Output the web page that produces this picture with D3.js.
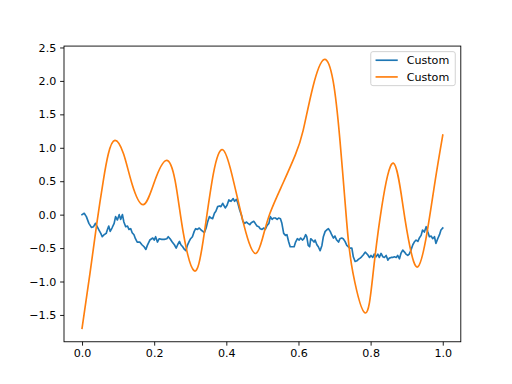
<!DOCTYPE html>
<html>
<head>
<meta charset="utf-8">
<script src="https://cdn.jsdelivr.net/npm/d3@7"></script>
<style>
html, body { margin: 0; padding: 0; background: #fff; }
svg { display: block; }
text { font-family: "DejaVu Sans", sans-serif; }
</style>
</head>
<body>
<svg id="chart" width="512" height="384"></svg>
<script>
const seriesNames = ["Custom", "Custom"];
const seriesColors = ["#1f77b4", "#ff7f0e"];

const blueX = [0.000,0.006,0.012,0.019,0.026,0.032,0.037,0.042,0.047,0.052,0.056,0.061,0.067,0.070,0.074,0.078,0.083,0.089,0.093,0.098,0.103,0.107,0.112,0.116,0.121,0.126,0.130,0.135,0.139,0.144,0.148,0.153,0.160,0.166,0.172,0.177,0.181,0.188,
0.196,0.200,0.204,0.209,0.214,0.221,0.228,0.235,0.239,0.244,0.250,0.256,0.261,0.265,0.270,0.274,0.279,0.284,0.288,0.292,0.297,0.301,0.306,0.311,0.315,0.320,0.325,0.330,0.335,0.339,0.344,0.348,0.353,0.358,0.362,0.367,0.371,0.376,0.381,0.385,0.390,
0.393,0.397,0.402,0.407,0.413,0.419,0.423,0.428,0.432,0.437,0.442,0.446,0.451,0.456,0.460,0.465,0.469,0.476,0.480,0.485,0.490,0.494,0.499,0.504,0.508,0.513,0.518,0.522,0.527,0.531,0.536,0.541,0.545,0.550,0.554,0.559,0.564,0.568,0.573,0.577,0.582,
0.588,0.592,0.597,0.602,0.606,0.611,0.615,0.620,0.623,0.627,0.631,0.634,0.638,0.643,0.646,0.651,0.655,0.660,0.665,0.669,0.674,0.678,0.683,0.688,0.692,0.697,0.701,0.706,0.711,0.715,0.720,0.724,0.729,0.734,0.738,0.743,0.748,0.752,0.757,0.762,0.766,0.771,0.775,0.780,0.785,
0.792,0.797,0.801,0.806,0.810,0.815,0.820,0.824,0.829,0.834,0.838,0.843,0.848,0.852,0.857,0.861,0.866,0.871,0.875,0.880,0.884,0.889,0.894,0.898,0.903,0.907,0.912,0.917,0.921,0.926,0.931,0.935,0.940,0.944,0.949,0.954,0.958,0.963,0.968,0.972,0.977,0.981,0.986,0.991,0.995,1.000];
const blueY = [0.00,0.02,-0.03,-0.13,-0.19,-0.18,-0.13,-0.18,-0.23,-0.28,-0.33,-0.30,-0.28,-0.23,-0.17,-0.25,-0.20,-0.13,-0.03,-0.08,0.00,-0.07,0.00,-0.11,-0.18,-0.17,-0.22,-0.21,-0.27,-0.30,-0.36,-0.41,-0.41,-0.45,-0.48,-0.52,-0.46,-0.38,
-0.35,-0.38,-0.33,-0.41,-0.36,-0.37,-0.37,-0.36,-0.33,-0.36,-0.41,-0.45,-0.50,-0.45,-0.40,-0.45,-0.48,-0.52,-0.54,-0.46,-0.40,-0.36,-0.33,-0.25,-0.21,-0.22,-0.20,-0.23,-0.25,-0.27,-0.20,-0.11,-0.03,-0.05,-0.06,0.02,0.05,0.12,0.13,0.12,0.17,
0.14,0.10,0.14,0.22,0.20,0.24,0.20,0.23,0.17,0.07,-0.01,-0.10,-0.13,-0.11,-0.13,-0.15,-0.12,-0.10,-0.13,-0.17,-0.18,-0.21,-0.22,-0.20,-0.22,-0.16,-0.13,-0.03,-0.07,-0.05,-0.05,-0.07,-0.05,-0.06,-0.13,-0.28,-0.31,-0.30,-0.41,-0.48,-0.48,
-0.48,-0.41,-0.36,-0.38,-0.35,-0.38,-0.36,-0.30,-0.33,-0.46,-0.48,-0.36,-0.38,-0.41,-0.38,-0.45,-0.48,-0.54,-0.46,-0.33,-0.25,-0.23,-0.21,-0.25,-0.30,-0.35,-0.32,-0.38,-0.41,-0.36,-0.35,-0.36,-0.40,-0.46,-0.48,-0.50,-0.50,-0.63,-0.70,-0.69,-0.67,-0.65,-0.63,-0.60,-0.56,
-0.60,-0.64,-0.61,-0.64,-0.59,-0.63,-0.59,-0.64,-0.58,-0.63,-0.64,-0.61,-0.68,-0.65,-0.64,-0.64,-0.63,-0.64,-0.61,-0.66,-0.58,-0.53,-0.56,-0.59,-0.61,-0.59,-0.53,-0.45,-0.41,-0.38,-0.40,-0.35,-0.31,-0.23,-0.26,-0.18,-0.25,-0.33,-0.32,-0.36,-0.33,-0.43,-0.36,-0.30,-0.23,-0.20];

const orangeX = [0.000,0.022,0.041,0.059,0.073,0.091,0.115,0.138,0.170,0.202,0.233,0.258,0.281,0.311,0.336,0.364,0.390,0.415,0.443,0.463,0.482,0.500,0.521,0.557,0.591,0.613,0.640,0.671,0.696,0.715,0.734,0.751,0.785,0.807,0.831,0.863,0.890,0.909,0.931,0.956,0.979,1.000];
const orangeY = [-1.70,-0.88,-0.13,0.51,0.91,1.11,0.91,0.47,0.15,0.51,0.81,0.51,-0.28,-0.84,-0.38,0.61,0.97,0.61,-0.03,-0.42,-0.58,-0.36,0.02,0.47,0.89,1.26,1.91,2.32,2.00,1.11,-0.13,-0.87,-1.47,-0.87,0.12,0.77,0.12,-0.48,-0.78,-0.28,0.51,1.19];

const xTicks = [0.0, 0.2, 0.4, 0.6, 0.8, 1.0];
const yTicks = [-1.5, -1.0, -0.5, 0.0, 0.5, 1.0, 1.5, 2.0, 2.5];

const W = 512, H = 384;
const L = 64, R = 460.8, T = 46.08, B = 341.76;
const px = 80 / 72;

const series = [
  blueX.map((x, i) => [x, blueY[i]]),
  orangeX.map((x, i) => [x, orangeY[i]])
];

const allX = blueX.concat(orangeX);
const allY = blueY.concat(orangeY);
const [x0, x1] = d3.extent(allX);
const [y0, y1] = d3.extent(allY);
const xm = (x1 - x0) * 0.05, ym = (y1 - y0) * 0.05;

const x = d3.scaleLinear().domain([x0 - xm, x1 + xm]).range([L, R]);
const y = d3.scaleLinear().domain([y0 - ym, y1 + ym]).range([B, T]);

const svg = d3.select("#chart");
svg.append("rect").attr("width", W).attr("height", H).attr("fill", "#fff");

const fmt = d3.format(".1f");
const tickLen = 3.5 * px, tickPad = 3.5 * px, fs = 10 * px;

const gx = svg.append("g").attr("transform", `translate(0,${B})`)
  .call(d3.axisBottom(x).tickValues(xTicks).tickFormat(fmt).tickSize(tickLen).tickPadding(tickPad));
const gy = svg.append("g").attr("transform", `translate(${L},0)`)
  .call(d3.axisLeft(y).tickValues(yTicks).tickFormat(fmt).tickSize(tickLen).tickPadding(tickPad));
[gx, gy].forEach(g => {
  g.select(".domain").remove();
  g.selectAll(".tick line").attr("stroke", "#000").attr("stroke-width", 0.8 * px);
  g.selectAll(".tick text").attr("fill", "#000").style("font-size", fs + "px").style("font-family", "DejaVu Sans");
});

svg.append("clipPath").attr("id", "clip").append("rect")
  .attr("x", L).attr("y", T).attr("width", R - L).attr("height", B - T);

const g = svg.append("g").attr("clip-path", "url(#clip)");
g.append("path").datum(series[0])
  .attr("d", d3.line().x(d => x(d[0])).y(d => y(d[1])).curve(d3.curveLinear))
  .attr("fill", "none").attr("stroke", seriesColors[0]).attr("stroke-width", 1.5 * px)
  .attr("stroke-linejoin", "round").attr("stroke-linecap", "square");
g.append("path").datum(series[1])
  .attr("d", d3.line().x(d => x(d[0])).y(d => y(d[1])).curve(d3.curveNatural))
  .attr("fill", "none").attr("stroke", seriesColors[1]).attr("stroke-width", 1.5 * px)
  .attr("stroke-linejoin", "round").attr("stroke-linecap", "square");

svg.append("rect").attr("x", L).attr("y", T).attr("width", R - L).attr("height", B - T)
  .attr("fill", "none").attr("stroke", "#000").attr("stroke-width", 0.8 * px);

// legend
const lgW = 84.5, lgH = 34;
const lgX = R - 5.55 - lgW, lgY = T + 5.55;
const lg = svg.append("g");
lg.append("rect").attr("x", lgX).attr("y", lgY).attr("width", lgW).attr("height", lgH)
  .attr("rx", 2.2).attr("ry", 2.2)
  .attr("fill", "#fff").attr("fill-opacity", 0.8)
  .attr("stroke", "#cccccc").attr("stroke-width", 0.8 * px);
seriesNames.forEach((name, i) => {
  const cy = lgY + 8.6 + i * 16.7;
  lg.append("line").attr("x1", lgX + 4.8).attr("x2", lgX + 4.8 + 22.2)
    .attr("y1", cy).attr("y2", cy)
    .attr("stroke", seriesColors[i]).attr("stroke-width", 1.5 * px);
  lg.append("text").attr("x", lgX + 4.8 + 22.2 + 8.9).attr("y", cy).attr("dy", "0.36em")
    .style("font-size", fs + "px").attr("fill", "#000").text(name);
});
</script>
</body>
</html>
